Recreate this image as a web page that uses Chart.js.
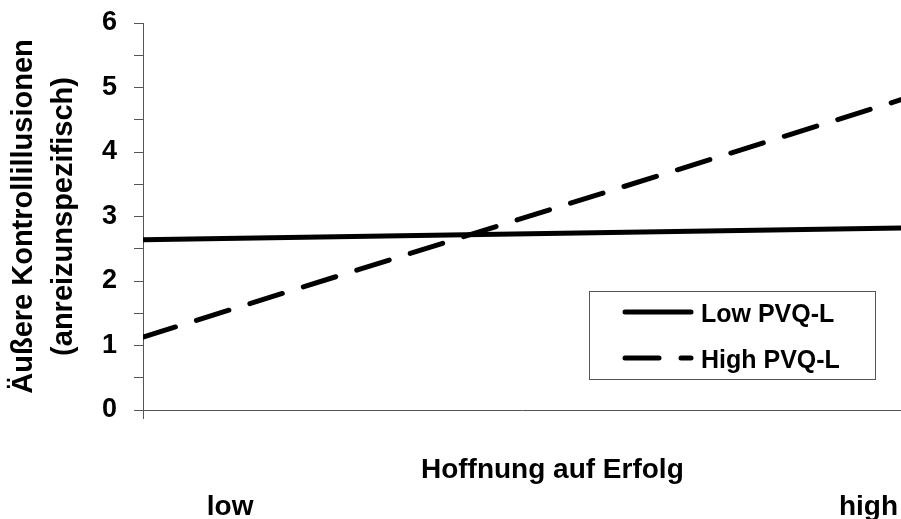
<!DOCTYPE html>
<html>
<head>
<meta charset="utf-8">
<script src="https://cdn.jsdelivr.net/npm/chart.js@4.4.0/dist/chart.umd.min.js"></script>
<style>
    body { margin: 0; background: #fff; }
    canvas { display: block; }
</style>
</head>
<body>
<canvas id="chart" width="901" height="519"></canvas>
<script>
// data
const xPositions = [0, 1];
const xEndLabels = ["low", "high"];
const seriesLabels = ["Low PVQ-L", "High PVQ-L"];
const lowPVQ = [2.64, 2.82];
const highPVQ = [1.13, 4.81];
const yTicks = [0, 1, 2, 3, 4, 5, 6];

const yTitle = ["Äußere Kontrollillusionen", "(anreizunspezifisch)"];
const xTitle = "Hoffnung auf Erfolg";

const fontFamily = '"Liberation Sans", Arial, sans-serif';
const axisColor = "#555";

function toPoints(values) {
    return values.map((v, i) => ({ x: xPositions[i], y: v }));
}

// texts under the x axis and the boxed legend
const extrasPlugin = {
    id: "extras",
    afterDraw(chart) {
        const { ctx, chartArea: a } = chart;
        const w = a.right - a.left;
        ctx.save();
        ctx.fillStyle = "#000";
        ctx.textBaseline = "alphabetic";

        ctx.font = "bold 28px " + fontFamily;
        ctx.textAlign = "center";
        ctx.fillText(xTitle, a.left + 0.54 * w, a.bottom + 68);
        ctx.fillText(xEndLabels[0], a.left + 0.115 * w, a.bottom + 105);
        ctx.textAlign = "right";
        ctx.fillText(xEndLabels[1], a.right - 3, a.bottom + 105);

        // legend
        const bx = a.right - 312;
        const by = 291;
        const bw = 286;
        const bh = 88;
        ctx.strokeStyle = axisColor;
        ctx.lineWidth = 1;
        ctx.strokeRect(bx + 0.5, by + 0.5, bw, bh);

        ctx.font = "bold 25px " + fontFamily;
        ctx.textAlign = "left";
        chart.data.datasets.forEach((ds, i) => {
            const rowY = by + 21 + i * 46;
            ctx.beginPath();
            ctx.strokeStyle = ds.borderColor;
            ctx.lineWidth = ds.borderWidth;
            ctx.lineCap = "round";
            ctx.setLineDash(ds.borderDash || []);
            ctx.moveTo(bx + 36, rowY);
            ctx.lineTo(bx + 102, rowY);
            ctx.stroke();
            ctx.setLineDash([]);
            ctx.fillText(ds.label, bx + 112, rowY + 10);
        });
        ctx.restore();
    },
};

new Chart(document.getElementById("chart").getContext("2d"), {
    type: "line",
    data: {
        datasets: [
            {
                label: seriesLabels[0],
                data: toPoints(lowPVQ),
                borderColor: "#000",
                borderWidth: 5,
                pointRadius: 0,
            },
            {
                label: seriesLabels[1],
                data: toPoints(highPVQ),
                borderColor: "#000",
                borderWidth: 5,
                borderDash: [34, 22],
                borderCapStyle: "round",
                pointRadius: 0,
            },
        ],
    },
    options: {
        responsive: false,
        animation: false,
        layout: { padding: { top: 23, right: 0, left: 0, bottom: 0 } },
        plugins: {
            legend: { display: false },
            tooltip: { enabled: false },
        },
        scales: {
            x: {
                type: "linear",
                min: 0,
                max: 1,
                ticks: { display: false, stepSize: 1 },
                grid: {
                    drawOnChartArea: false,
                    tickLength: 9,
                    color: (c) => (c.index === 0 ? axisColor : "rgba(0,0,0,0)"),
                },
                border: { color: axisColor, width: 1 },
                afterFit: (scale) => {
                    scale.height = 109;
                    scale.paddingLeft = 0;
                    scale.paddingRight = 0;
                },
            },
            y: {
                min: 0,
                max: 6,
                ticks: {
                    stepSize: 0.5,
                    autoSkip: false,
                    padding: 17,
                    color: "#000",
                    font: { family: fontFamily, size: 27, weight: "bold" },
                    callback: (value) => (yTicks.includes(value) ? value : ""),
                },
                grid: {
                    drawOnChartArea: false,
                    tickLength: 9,
                    color: axisColor,
                },
                border: { color: axisColor, width: 1 },
                title: {
                    display: true,
                    text: yTitle,
                    color: "#000",
                    padding: { top: 4, bottom: 0 },
                    font: { family: fontFamily, size: 29, weight: "bold", lineHeight: 1.38 },
                },
                afterFit: (scale) => {
                    scale.width = 143;
                    scale.paddingTop = 0;
                    scale.paddingBottom = 0;
                },
            },
        },
    },
    plugins: [extrasPlugin],
});
</script>
</body>
</html>
